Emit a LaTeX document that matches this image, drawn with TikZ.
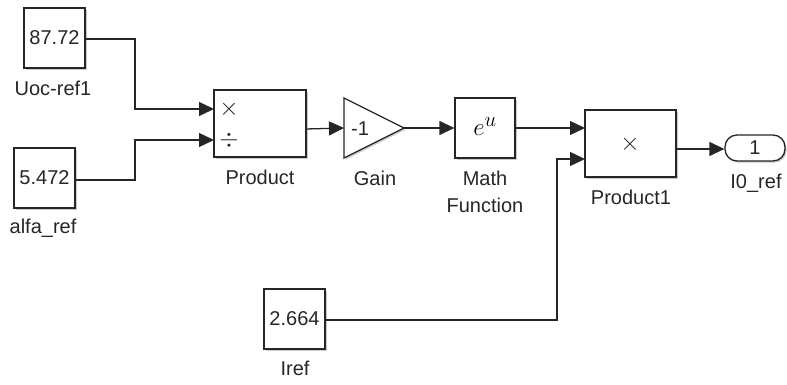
\documentclass[tikz,border=0pt]{standalone}
\usepackage{fontspec}
\setmainfont{Liberation Sans}
\usetikzlibrary{arrows.meta,shadows,calc}
\begin{document}
\begin{tikzpicture}[x=1pt,y=-1pt,
  blk/.style={draw=black!85,line width=1.3pt,fill=white,inner sep=0pt,
    drop shadow={shadow xshift=1.6pt,shadow yshift=-1.6pt,opacity=0.35,fill=black!60}},
  lbl/.style={font=\fontsize{20}{24}\selectfont,text=black!85,inner sep=0pt},
  txt/.style={font=\fontsize{20}{24}\selectfont,text=black!85,inner sep=0pt},
  sym/.style={font=\fontsize{30}{34}\selectfont,text=black!85,inner sep=0pt},
  wire/.style={line width=1.3pt,draw=black!85},
  arr/.style={wire,-{Triangle[length=15pt,width=14pt]}}]
\useasboundingbox (0,0) rectangle (787,385);
% constants
\node[blk,minimum width=61,minimum height=60] (c1) at (54.5,38) {};
\node[txt] at (c1.center) {87.72};
\node[lbl] (l1) at (53,88) {Uoc-ref1};
\node[blk,minimum width=61,minimum height=60] (c2) at (44.5,178) {};
\node[txt] at (c2.center) {5.472};
\node[lbl] (l2) at (43,228) {alfa\_ref};
\node[blk,minimum width=61,minimum height=60] (c3) at (294.5,319) {};
\node[txt] at (c3.center) {2.664};
\node[lbl] (l3) at (295,368) {Iref};
% product
\node[blk,minimum width=92,minimum height=67] (p) at (260,123.5) {};
\coordinate (pin1) at (214,109);
\coordinate (pin2) at (214,140);
\coordinate (pout) at (306,129);
\node[sym] (px) at (229,109) {$\times$};
\node[sym] (pd) at (229,140) {$\div$};
\node[lbl] (pl) at (260,177) {Product};
% gain
\coordinate (gin) at (344,128);
\coordinate (gout) at (404,128);
\fill[black!60,opacity=0.35,shift={(1.6,1.6)}] (344,98) -- (404,128) -- (344,158) -- cycle;
\draw[line width=1.3pt,draw=black!85,fill=white,line join=miter] (344,98) -- (gout) -- (344,158) -- cycle;
\node[txt] (gt) at (360,129) {-1};
\node[lbl] (gl) at (375,178) {Gain};
% math function
\node[blk,minimum width=60,minimum height=60] (m) at (485,128) {};
\node[inner sep=0pt] (mt) at (485,127) {\fontsize{32}{36}\selectfont$e^u$};
\node[lbl] (ml1) at (485,178) {Math};
\node[lbl] (ml2) at (485,205) {Function};
% product1
\node[blk,minimum width=91,minimum height=67] (p1) at (630.5,143.5) {};
\coordinate (qin1) at (585,128);
\coordinate (qin2) at (585,159);
\coordinate (qout) at (676,149);
\node[sym] (qx) at (630,144) {$\times$};
\node[lbl] (ql) at (631,197) {Product1};
% outport
\node[draw=black!85,line width=1.3pt,fill=white,rounded corners=12pt,minimum width=60,minimum height=26,inner sep=0pt,
  drop shadow={shadow xshift=1.6pt,shadow yshift=-1.6pt,opacity=0.35,fill=black!60}] (o) at (755,148) {};
\node[txt] (ot) at (o.center) {1};
\node[lbl] (ol) at (756,183) {I0\_ref};
% wires
\draw[arr] (c1.east |- 0,39) -| (135,109) -- (pin1);
\draw[arr] (c2.east |- 0,180) -| (135,140) -- (pin2);
\draw[arr] (pout) -- (gin);
\draw[arr] (gout) -- (m.west |- gout);
\draw[arr] (m.east |- 0,128) -- (qin1);
\draw[arr] (c3.east |- 0,320) -| (557,159) -- (qin2);
\draw[arr] (qout) -- (o.west |- qout);
\end{tikzpicture}
\end{document}
